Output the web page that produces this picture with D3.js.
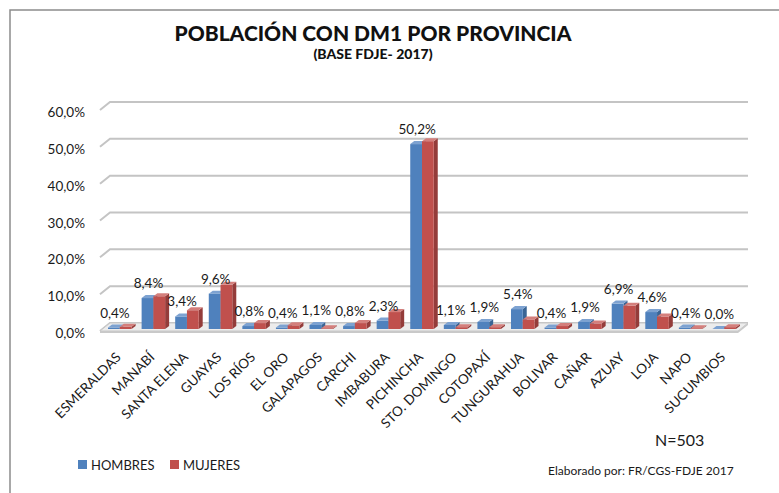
<!DOCTYPE html>
<html>
<head>
<meta charset="utf-8">
<script src="https://cdn.jsdelivr.net/npm/d3@7"></script>
<style>
  html, body { margin: 0; padding: 0; background: #fff; }
  svg { display: block; font-family: Lato, "Open Sans", sans-serif; }
</style>
</head>
<body>
<div id="chart"></div>
<script>
// values (percent)
const categories = ['ESMERALDAS', 'MANABÍ', 'SANTA ELENA', 'GUAYAS', 'LOS RÍOS', 'EL ORO',
  'GALAPAGOS', 'CARCHI', 'IMBABURA', 'PICHINCHA', 'STO. DOMINGO', 'COTOPAXÍ',
  'TUNGURAHUA', 'BOLIVAR', 'CAÑAR', 'AZUAY', 'LOJA', 'NAPO', 'SUCUMBIOS'];
const hombres = [0.4, 8.4, 3.4, 9.6, 0.8, 0.4, 1.1, 0.8, 2.3, 50.2, 1.1, 1.9, 5.4, 0.4, 1.9, 6.9, 4.6, 0.4, 0.0];
const mujeres = [0.6, 8.9, 5.1, 12.0, 1.6, 1.0, 0.2, 1.6, 4.6, 51.0, 0.5, 0.5, 2.6, 0.8, 1.5, 6.3, 3.4, 0.2, 0.5];
const yTicks = [0, 10, 20, 30, 40, 50, 60];
const seriesNames = ['HOMBRES', 'MUJERES'];

const width = 779;
const height = 493;
const plot = { left: 100, right: 738, base: 331, top: 110 };
const wall = { dx: 10, dy: 8 };   // depth of the back wall
const depth = { dx: 4, dy: 3 };   // depth of each bar
const shift = { dx: 3, dy: 2 };   // bars sit a bit into the floor

const colors = {
  HOMBRES: { front: '#4f81bd', top: '#7da2d1', side: '#3a6595' },
  MUJERES: { front: '#c0504d', top: '#d47f7c', side: '#943c3a' },
};

const locale = d3.formatLocale({ decimal: ',', thousands: '.', grouping: [3], currency: ['', ''] });
const pct = v => locale.format('.1f')(v) + '%';

const svg = d3.select('#chart').append('svg')
  .attr('width', width)
  .attr('height', height);

// outer frame (only top and left are visible)
svg.append('path')
  .attr('d', `M10,${height} L10,10 L${width},10`)
  .attr('fill', 'none')
  .attr('stroke', '#8c8c8c')
  .attr('stroke-width', 1.5);

// titles
svg.append('text')
  .attr('x', 373).attr('y', 41)
  .attr('text-anchor', 'middle')
  .style('font-size', '21px').style('font-weight', 900)
  .attr('fill', '#111')
  .text('POBLACIÓN CON DM1 POR PROVINCIA');
svg.append('text')
  .attr('x', 373).attr('y', 59)
  .attr('text-anchor', 'middle')
  .style('font-size', '14px').style('font-weight', 900)
  .attr('fill', '#111')
  .text('(BASE FDJE- 2017)');

const x = d3.scaleBand()
  .domain(categories)
  .range([plot.left, plot.right])
  .paddingInner(0.3)
  .paddingOuter(0.15);
const xs = d3.scaleBand().domain(seriesNames).range([0, x.bandwidth()]);
const y = d3.scaleLinear().domain([0, 60]).range([plot.base, plot.top]);

// gridlines with the 3D wall corner
svg.append('g').selectAll('path')
  .data(yTicks)
  .join('path')
  .attr('d', t => `M${plot.left},${y(t)} L${plot.left + wall.dx},${y(t) - wall.dy} L${plot.right + wall.dx},${y(t) - wall.dy}`)
  .attr('fill', 'none')
  .attr('stroke', '#c4c4c4')
  .attr('stroke-width', 2);

// y axis labels
svg.append('g').selectAll('text')
  .data(yTicks)
  .join('text')
  .attr('x', 85)
  .attr('y', t => y(t) + 7)
  .attr('text-anchor', 'end')
  .style('font-size', '13.5px')
  .attr('fill', '#1a1a1a')
  .text(t => pct(t));

// floor
svg.append('path')
  .attr('d', `M${plot.left},${plot.base} L${plot.right},${plot.base} L${plot.right + wall.dx},${plot.base - wall.dy} L${plot.left + wall.dx},${plot.base - wall.dy} Z`)
  .attr('fill', '#ececec')
  .attr('stroke', '#c8c8c8')
  .attr('stroke-width', 1);
svg.append('path')
  .attr('d', `M${plot.left},${plot.base} L${plot.right},${plot.base} L${plot.right + wall.dx},${plot.base - wall.dy} L${plot.right + wall.dx},${plot.base - wall.dy + 2} L${plot.right},${plot.base + 2} L${plot.left},${plot.base + 2} Z`)
  .attr('fill', '#c9c9c9');

// bars
const bars = categories.flatMap((c, i) => [
  { cat: c, series: 'HOMBRES', value: hombres[i] },
  { cat: c, series: 'MUJERES', value: mujeres[i] },
]);

const barGroups = svg.append('g').selectAll('g')
  .data(bars)
  .join('g');

const bx = d => x(d.cat) + xs(d.series) + shift.dx;
const bw = xs.bandwidth();
const bBase = plot.base - shift.dy;
const bTop = d => y(d.value) - shift.dy;

barGroups.append('path')
  .attr('d', d => {
    const x0 = bx(d), x1 = x0 + bw, t = bTop(d);
    return `M${x1},${t} L${x1 + depth.dx},${t - depth.dy} L${x1 + depth.dx},${bBase - depth.dy} L${x1},${bBase} Z`;
  })
  .attr('fill', d => colors[d.series].side);
barGroups.append('rect')
  .attr('x', bx)
  .attr('y', bTop)
  .attr('width', bw)
  .attr('height', d => bBase - bTop(d))
  .attr('fill', d => colors[d.series].front);
barGroups.append('path')
  .attr('d', d => {
    const x0 = bx(d), x1 = x0 + bw, t = bTop(d);
    return `M${x0},${t} L${x0 + depth.dx},${t - depth.dy} L${x1 + depth.dx},${t - depth.dy} L${x1},${t} Z`;
  })
  .attr('fill', d => colors[d.series].top);

// data labels (HOMBRES series)
svg.append('g').selectAll('text')
  .data(categories)
  .join('text')
  .attr('x', (c, i) => x(c) + xs('HOMBRES') + shift.dx + bw / 2 + 1)
  .attr('y', (c, i) => y(hombres[i]) - 12)
  .attr('text-anchor', 'middle')
  .style('font-size', '13.5px')
  .attr('fill', '#1a1a1a')
  .text((c, i) => pct(hombres[i]));

// category labels
svg.append('g').selectAll('text')
  .data(categories)
  .join('text')
  .attr('transform', c => `translate(${x(c) + x.bandwidth() / 2 + 5},358) rotate(-45)`)
  .attr('text-anchor', 'end')
  .style('font-size', '13.5px')
  .attr('fill', '#1a1a1a')
  .text(c => c);

// legend
const legend = svg.append('g').selectAll('g')
  .data(seriesNames)
  .join('g')
  .attr('transform', (s, i) => `translate(${78 + i * 92},460)`);
legend.append('rect')
  .attr('width', 9).attr('height', 9)
  .attr('fill', s => colors[s].front);
legend.append('text')
  .attr('x', 13).attr('y', 9.5)
  .style('font-size', '13px')
  .attr('fill', '#1a1a1a')
  .text(s => s);

// notes
svg.append('text')
  .attr('x', 655).attr('y', 446)
  .style('font-size', '16px')
  .attr('fill', '#1a1a1a')
  .text('N=503');
svg.append('text')
  .attr('x', 548).attr('y', 475)
  .style('font-size', '12px')
  .attr('fill', '#1a1a1a')
  .text('Elaborado por:  FR/CGS-FDJE 2017');
</script>
</body>
</html>
